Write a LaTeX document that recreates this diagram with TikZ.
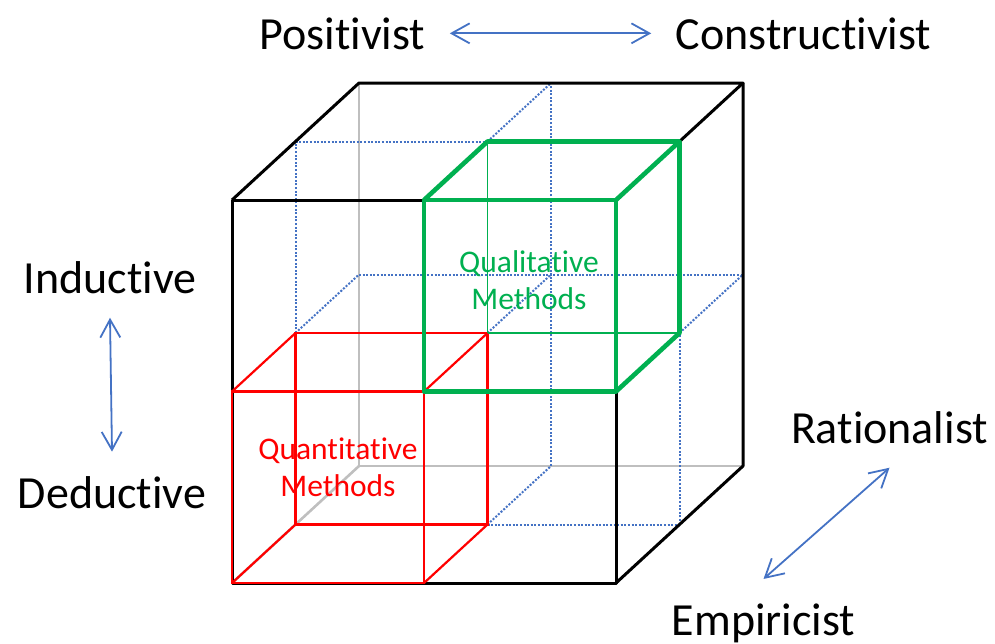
\documentclass[tikz,border=0pt]{standalone}
\usepackage{fontspec}
\setmainfont{Carlito}[Ligatures=NoCommon,RawFeature={-liga;-clig;-calt}]
\usetikzlibrary{arrows.meta}

\definecolor{cubered}{RGB}{255,0,0}
\definecolor{cubegreen}{RGB}{0,176,80}
\definecolor{gridblue}{RGB}{68,114,196}
\definecolor{hiddengrey}{RGB}{191,191,191}

\tikzset{
  axislabel/.style={font=\fontsize{23}{28}\selectfont, inner sep=12pt, anchor=base},
  methodlabel/.style={font=\fontsize{15.75}{18.5}\selectfont, align=center, inner sep=0pt},
  axisarrow/.style={draw=gridblue, line width=0.9pt,
    {Straight Barb[length=9pt,width=10pt]}-{Straight Barb[length=9pt,width=10pt]}},
  hidden/.style={draw=hiddengrey, line width=1.3pt},
  midline/.style={draw=gridblue, line width=1pt, dash pattern=on 1pt off 0.8pt},
  outer/.style={draw=black, line width=1.5pt, line join=round},
  quant/.style={draw=cubered, line width=1.1pt},
  qual/.style={draw=cubegreen, line width=2.3pt, line join=round},
  qualback/.style={draw=cubegreen, line width=0.8pt}
}

\begin{document}
\begin{tikzpicture}[x=0.5pt,y=-0.5pt]

      \useasboundingbox (0,0) rectangle (995,643);

      % corners of the 2x2x2 grid: p<x><y><depth>
      \foreach \i in {0,1,2}
        \foreach \j in {0,1,2}
          \foreach \k in {0,1,2}
            \coordinate (p\i\j\k) at ({232+192*\i+63.5*\k},{583-191.5*\j-58.5*\k});

      % hidden edges of the big cube
      \begin{scope}[every edge/.style={hidden}]
        \path (p000) edge (p002);
        \path (p002) edge (p202);
        \path (p002) edge (p022);
      \end{scope}

      % mid planes
      \begin{scope}[every edge/.style={midline}]
        \path (p021) edge (p121);
        \path (p121) edge (p122);
        \path (p011) edge (p021);
        \path (p102) edge (p122);
        \path (p012) edge (p212);
        \path (p011) edge (p012);
        \path (p111) edge (p112);
        \path (p211) edge (p212);
        \path (p101) edge (p201);
        \path (p101) edge (p102);
        \path (p201) edge (p211);
      \end{scope}

      % big cube
      \draw[outer] (p000) -- (p200) -- (p220) -- (p020) -- cycle;
      \draw[outer] (p020) -- (p022) -- (p222) -- (p220);
      \draw[outer] (p222) -- (p202) -- (p200);

      % quantitative cube
      \draw[quant] (p000) -- (p100) -- (p110) -- (p010) -- cycle;
      \draw[quant] (p001) -- (p101) -- (p111) -- (p011) -- cycle;
      \begin{scope}[every edge/.style={quant}]
        \path (p000) edge (p001);
        \path (p100) edge (p101);
        \path (p110) edge (p111);
        \path (p010) edge (p011);
      \end{scope}

      % qualitative cube
      \begin{scope}[every edge/.style={qualback}]
        \path (p111) edge (p121);
        \path (p111) edge (p211);
      \end{scope}
      \draw[qual] (p110) -- (p210) -- (p220) -- (p120) -- cycle;
      \draw[qual] (p120) -- (p121) -- (p221) -- (p220);
      \draw[qual] (p221) -- (p211) -- (p210);

      \node[methodlabel, text=cubered]   (quanttext) at (338,467) {Quantitative\\Methods};
      \node[methodlabel, text=cubegreen] (qualtext)  at (529,280) {Qualitative\\Methods};

      \begin{scope}[every node/.style={axislabel}]
        \node (pos) at (342.5,49) {Positivist};
        \node (con) at (803.5,49) {Constructivist};
        \node (ind) at (110,293)  {Inductive};
        \node (ded) at (112,508)  {Deductive};
        \node (rat) at (889.5,443) {Rationalist};
        \node (emp) at (763.5,635) {Empiricist};
      \end{scope}

      \begin{scope}[every edge/.style={axisarrow}]
        \path (pos.east)  edge (con.west);
        \path (ind.south) edge (ded.north);
        \path (rat.south) edge (emp.north);
      \end{scope}

    \end{tikzpicture}
\end{document}
